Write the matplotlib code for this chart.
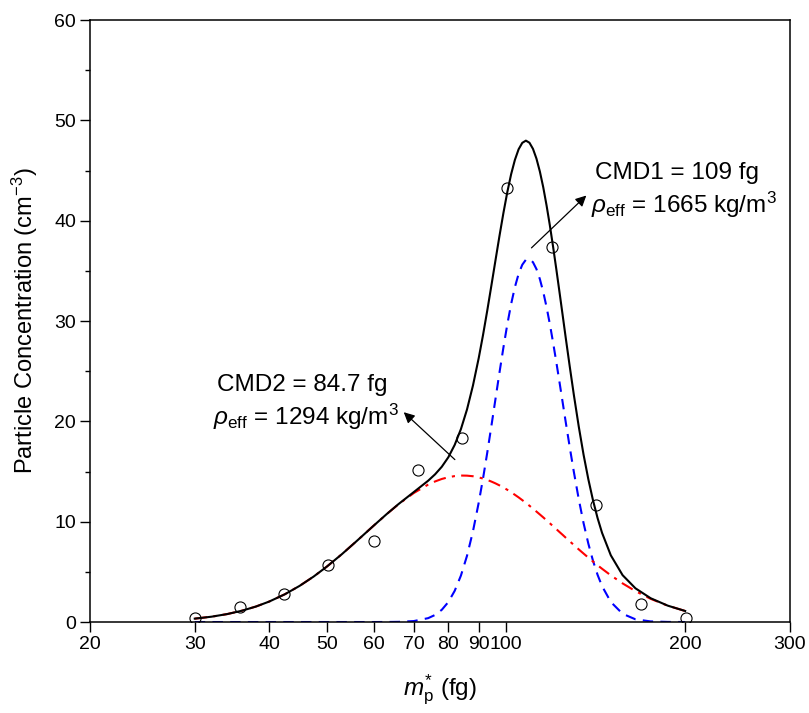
import matplotlib
matplotlib.use("Agg")
import matplotlib.pyplot as plt
from matplotlib.ticker import FixedLocator, FixedFormatter, MultipleLocator, NullLocator

plt.rcParams['font.family'] = ['Liberation Sans', 'DejaVu Sans']
plt.rcParams['mathtext.fontset'] = 'custom'
plt.rcParams['mathtext.rm'] = 'Liberation Sans'
plt.rcParams['mathtext.it'] = 'Liberation Sans:italic'

# measured points
mass = [30.0, 35.7, 42.4, 50.3, 59.9, 71.1, 84.5, 100.3, 119.4, 141.7, 168.4, 200.5]
conc = [0.43, 1.53, 2.82, 5.68, 8.08, 15.15, 18.35, 43.3, 37.4, 11.66, 1.76, 0.43]

# fitted curves
fit_x = [30, 32, 34, 36, 38, 40, 42.5, 45, 47.5, 50,
         53, 56, 60, 63, 66, 70, 74, 76, 78, 80, 82, 84, 86,
         88, 90, 91.5, 93, 94.5, 96, 97.5, 99, 100.5, 102,
         103.5, 105, 106.5, 108, 109.5, 111, 112.5, 114, 115.5, 117,
         118.5, 120, 121.5, 123, 124.5, 126, 128, 130, 132.5, 135,
         137.5, 140, 142.5, 145, 150, 157, 165, 175, 187, 200]
mode1 = [0, 0, 0, 0, 0, 0, 0, 0, 0, 0,
         0, 0, 0, 0.004, 0.018, 0.095, 0.386, 0.704, 1.216, 1.99, 3.11, 4.63, 6.60,
         9.04, 11.92, 14.31, 16.87, 19.53, 22.21, 24.85, 27.35, 29.66, 31.69,
         33.38, 34.70, 35.61, 36.11, 36.18, 35.86, 35.18, 34.18, 32.90, 31.38,
         29.68, 27.83, 25.89, 23.90, 21.90, 19.92, 17.38, 14.98, 12.25, 9.85,
         7.82, 6.11, 4.71, 3.58, 2.00, 0.82, 0.27, 0.06, 0.01, 0.0]
mode2 = [0.337, 0.530, 0.791, 1.126, 1.541, 2.037, 2.764, 3.602, 4.526, 5.522,
         6.764, 8.021, 9.629, 10.744, 11.744, 12.857, 13.698, 14.01, 14.257, 14.43,
         14.546, 14.60, 14.588,
         14.53, 14.413, 14.30, 14.161, 14.00, 13.820, 13.62, 13.407, 13.18, 12.936,
         12.68, 12.422, 12.15, 11.874, 11.59, 11.303, 11.01, 10.719, 10.43, 10.131,
         9.84, 9.545, 9.26, 8.969, 8.69, 8.404, 8.04, 7.681, 7.24, 6.824,
         6.42, 6.033, 5.66, 5.309, 4.654, 3.850, 3.081, 2.311, 1.625, 1.102]
total = [0.337, 0.530, 0.791, 1.126, 1.541, 2.037, 2.764, 3.602, 4.526, 5.522,
         6.764, 8.021, 9.629, 10.748, 11.762, 12.952, 14.084, 14.72, 15.473, 16.42,
         17.656, 19.23, 21.188,
         23.57, 26.33, 28.61, 31.03, 33.53, 36.03, 38.47, 40.76, 42.84, 44.63,
         46.06, 47.12, 47.76, 47.98, 47.77, 47.16, 46.19, 44.90, 43.33, 41.51,
         39.52, 37.38, 35.15, 32.87, 30.59, 28.32, 25.42, 22.66, 19.49, 16.67,
         14.24, 12.14, 10.37, 8.89, 6.65, 4.67, 3.36, 2.37, 1.63, 1.10]

xticks = [20, 30, 40, 50, 60, 70, 80, 90, 100, 200, 300]

fig = plt.figure(figsize=(8.09, 7.13), dpi=100)
ax = fig.add_axes([0.1112, 0.1276, 0.8653, 0.8443])

ax.plot(fit_x, mode1, color='blue', ls=(0, (5, 3.5)), lw=1.5)
ax.plot(fit_x, mode2, color='red', ls=(0, (6, 3, 1.5, 3)), lw=1.5)
ax.plot(fit_x, total, color='black', lw=1.5)
ax.plot(mass, conc, 'o', mfc='none', mec='black', ms=8, mew=0.8)

ax.set_xscale('log')
ax.set_xlim(20, 300)
ax.set_ylim(0, 60)
ax.xaxis.set_major_locator(FixedLocator(xticks))
ax.xaxis.set_major_formatter(FixedFormatter([str(t) for t in xticks]))
ax.xaxis.set_minor_locator(NullLocator())
ax.yaxis.set_major_locator(MultipleLocator(10))
ax.yaxis.set_minor_locator(MultipleLocator(5))

ax.tick_params(which='major', direction='out', length=7, width=1, labelsize=14, pad=3)
ax.tick_params(which='minor', direction='out', length=3.5, width=1)
for s in ax.spines.values():
    s.set_linewidth(1.1)

ax.set_xlabel(r'$m_{\rm p}^{*}$ (fg)', fontsize=17.5, labelpad=14)
ax.set_ylabel(r'Particle Concentration (cm$^{-3}$)', fontsize=17, labelpad=10)

ax.annotate('', xy=(137.5, 42.7), xytext=(109.5, 37.1),
            arrowprops=dict(arrowstyle='-|>', lw=0.9, color='black', mutation_scale=16))
ax.annotate('', xy=(66.8, 21.1), xytext=(82.7, 16.0),
            arrowprops=dict(arrowstyle='-|>', lw=0.9, color='black', mutation_scale=16))

ax.text(0.721, 0.746, 'CMD1 = 109 fg', transform=ax.transAxes, fontsize=17.5, va='center')
ax.text(0.716, 0.693, r'$\rho_{\rm eff}$ = 1665 kg/m$^3$', transform=ax.transAxes,
        fontsize=17.5, va='center')
ax.text(0.181, 0.394, 'CMD2 = 84.7 fg', transform=ax.transAxes, fontsize=17.5, va='center')
ax.text(0.176, 0.341, r'$\rho_{\rm eff}$ = 1294 kg/m$^3$', transform=ax.transAxes,
        fontsize=17.5, va='center')

plt.savefig('out.png', dpi=100)
